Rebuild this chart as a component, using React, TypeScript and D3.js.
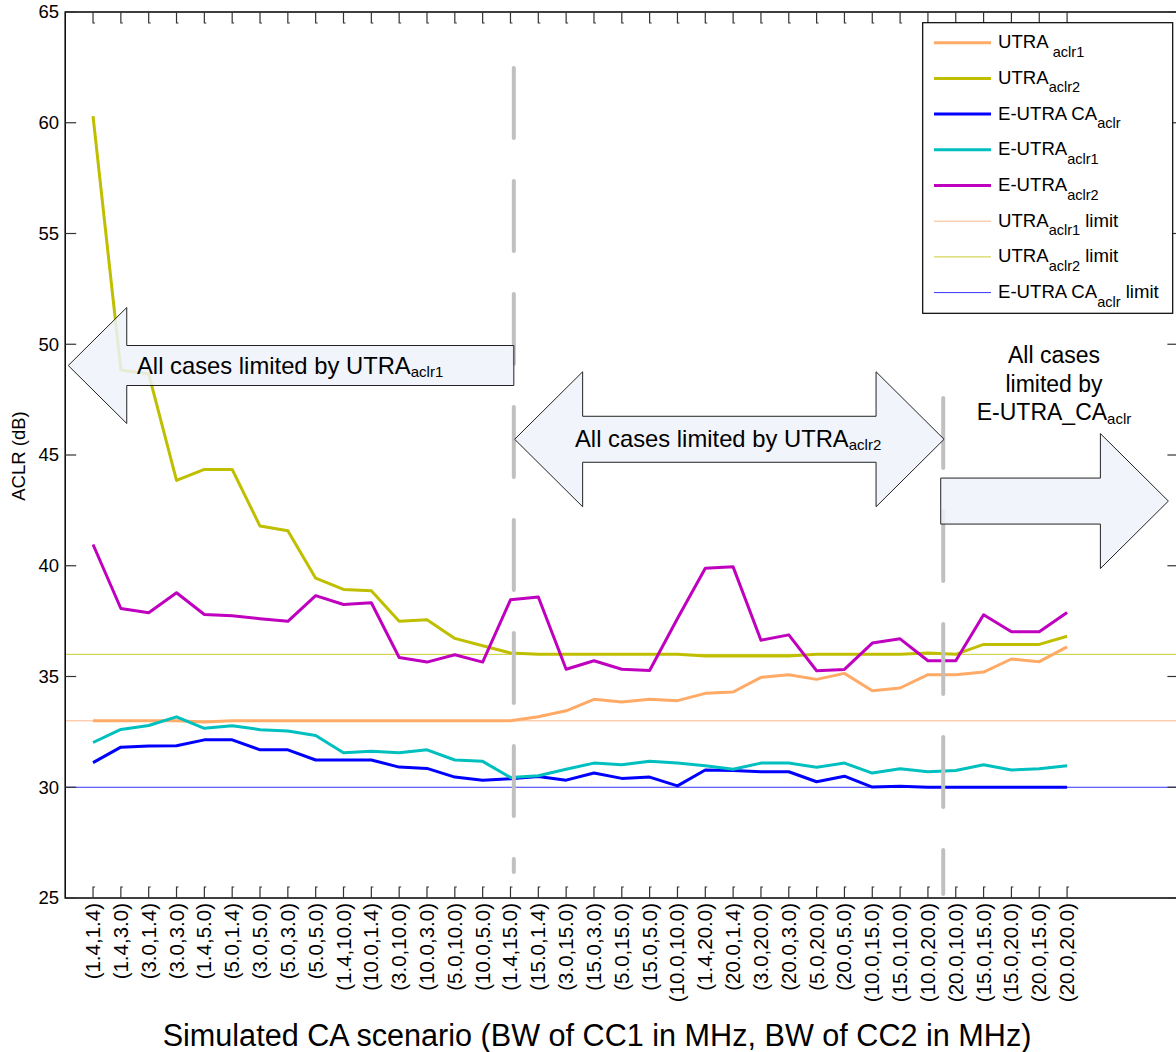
import React from "react";
import * as d3 from "d3";

// CA scenarios: (BW of CC1, BW of CC2) in MHz
const categories = [
  "(1.4,1.4)", "(1.4,3.0)", "(3.0,1.4)", "(3.0,3.0)", "(1.4,5.0)", "(5.0,1.4)",
  "(3.0,5.0)", "(5.0,3.0)", "(5.0,5.0)", "(1.4,10.0)", "(10.0,1.4)", "(3.0,10.0)",
  "(10.0,3.0)", "(5.0,10.0)", "(10.0,5.0)", "(1.4,15.0)", "(15.0,1.4)", "(3.0,15.0)",
  "(15.0,3.0)", "(5.0,15.0)", "(15.0,5.0)", "(10.0,10.0)", "(1.4,20.0)", "(20.0,1.4)",
  "(3.0,20.0)", "(20.0,3.0)", "(5.0,20.0)", "(20.0,5.0)", "(10.0,15.0)", "(15.0,10.0)",
  "(10.0,20.0)", "(20.0,10.0)", "(15.0,15.0)", "(15.0,20.0)", "(20.0,15.0)", "(20.0,20.0)",
];

// ACLR results in dB, one value per scenario
const utraAclr1 = [
  33.0, 33.0, 33.0, 33.0, 32.95, 33.0, 33.0, 33.0, 33.0, 33.0, 33.0, 33.0,
  33.0, 33.0, 33.0, 33.0, 33.18, 33.45, 33.97, 33.85, 33.97, 33.91, 34.24, 34.3,
  34.96, 35.08, 34.87, 35.14, 34.36, 34.48, 35.08, 35.08, 35.2, 35.79, 35.67, 36.34,
];
const utraAclr2 = [
  60.3, 48.84, 48.66, 43.85, 44.35, 44.35, 41.79, 41.58, 39.44, 38.93, 38.87, 37.49,
  37.56, 36.72, 36.39, 36.06, 36.0, 36.0, 36.0, 36.0, 36.0, 36.0, 35.93, 35.93,
  35.93, 35.93, 36.0, 36.0, 36.0, 36.0, 36.06, 36.0, 36.45, 36.45, 36.45, 36.82,
];
const eutraCaAclr = [
  31.11, 31.81, 31.86, 31.87, 32.14, 32.14, 31.69, 31.69, 31.23, 31.23, 31.23, 30.91,
  30.85, 30.46, 30.32, 30.38, 30.49, 30.32, 30.64, 30.4, 30.46, 30.06, 30.78, 30.76,
  30.7, 30.7, 30.25, 30.5, 30.01, 30.05, 30.0, 30.0, 30.0, 30.0, 30.0, 30.0,
];
const eutraAclr1 = [
  32.02, 32.61, 32.79, 33.18, 32.66, 32.78, 32.6, 32.54, 32.34, 31.56, 31.62, 31.56,
  31.69, 31.23, 31.17, 30.44, 30.52, 30.81, 31.09, 31.02, 31.17, 31.09, 30.97, 30.81,
  31.09, 31.09, 30.9, 31.09, 30.64, 30.84, 30.7, 30.76, 31.02, 30.78, 30.84, 30.97,
];
const eutraAclr2 = [
  40.96, 38.07, 37.88, 38.78, 37.8, 37.74, 37.61, 37.49, 38.65, 38.25, 38.33, 35.86,
  35.65, 35.98, 35.65, 38.46, 38.59, 35.33, 35.71, 35.33, 35.27, 37.62, 39.89, 39.95,
  36.64, 36.88, 35.26, 35.32, 36.51, 36.7, 35.71, 35.71, 37.79, 37.02, 37.02, 37.89,
];

// Requirement limits in dB
const utraAclr1Limit = 33;
const utraAclr2Limit = 36;
const eutraCaAclrLimit = 30;

const yTicks = [25, 30, 35, 40, 45, 50, 55, 60, 65];

// Region boundaries (in scenario-index units) and their vertical extent (dB)
const separators = [
  { at: 16.12, from: 62.47, to: 26.17 },
  { at: 31.55, from: 47.57, to: 25.18 },
];

const FONT = "'Liberation Sans', Arial, Helvetica, sans-serif";

const series = [
  { key: "u1", data: utraAclr1, color: "#ffaa66", main: "UTRA ", sub: "aclr1", tail: "" },
  { key: "u2", data: utraAclr2, color: "#bfbf00", main: "UTRA", sub: "aclr2", tail: "" },
  { key: "ca", data: eutraCaAclr, color: "#0000ff", main: "E-UTRA CA", sub: "aclr", tail: "" },
  { key: "e1", data: eutraAclr1, color: "#00bfbf", main: "E-UTRA", sub: "aclr1", tail: "" },
  { key: "e2", data: eutraAclr2, color: "#bf00bf", main: "E-UTRA", sub: "aclr2", tail: "" },
];

const limits = [
  { key: "l1", value: utraAclr1Limit, color: "#ffb888", main: "UTRA", sub: "aclr1", tail: " limit" },
  { key: "l2", value: utraAclr2Limit, color: "#cccc33", main: "UTRA", sub: "aclr2", tail: " limit" },
  { key: "l3", value: eutraCaAclrLimit, color: "#3535ff", main: "E-UTRA CA", sub: "aclr", tail: " limit" },
];

const W = 1176;
const H = 1052;

export default function App() {
  const x = d3.scaleLinear().domain([0, 40]).range([65.2, 1178.4]);
  const y = d3.scaleLinear().domain([25, 65]).range([898, 12]);

  const line = d3
    .line<number>()
    .x((_, i) => x(i + 1))
    .y((d) => y(d));

  // Block arrow outlines
  const leftArrow = (tipX: number, endX: number, cy: number, shaftH: number, headH: number, headL: number) =>
    `M${tipX},${cy} L${tipX + headL},${cy - headH} V${cy - shaftH} H${endX} V${cy + shaftH} H${tipX + headL} V${cy + headH} Z`;
  const rightArrow = (startX: number, tipX: number, cy: number, shaftH: number, headH: number, headL: number) =>
    `M${tipX},${cy} L${tipX - headL},${cy - headH} V${cy - shaftH} H${startX} V${cy + shaftH} H${tipX - headL} V${cy + headH} Z`;
  const doubleArrow = (lx: number, rx: number, cy: number, shaftH: number, headH: number, headL: number) =>
    `M${lx},${cy} L${lx + headL},${cy - headH} V${cy - shaftH} H${rx - headL} V${cy - headH} L${rx},${cy} L${rx - headL},${cy + headH} V${cy + shaftH} H${lx + headL} V${cy + headH} Z`;

  const a1y = y(49.04);
  const a2y = y(45.71);
  const a3y = y(42.92);

  const legendX = 922.7;
  const legendY = 22.7;
  const legendRows = [...series, ...limits];

  return (
    <svg
      width={W}
      height={H}
      viewBox={`0 0 ${W} ${H}`}
      style={{ position: "absolute", left: 0, top: 0, background: "#fff" }}
      fontFamily={FONT}
    >
      <rect x={0} y={0} width={W} height={H} fill="#fff" />

      {/* limit lines */}
      {limits.map((l) => (
        <line key={l.key} x1={x(0)} x2={x(40)} y1={y(l.value)} y2={y(l.value)} stroke={l.color} strokeWidth={1} />
      ))}

      {/* measured series */}
      {series.map((s) => (
        <path key={s.key} d={line(s.data) || ""} fill="none" stroke={s.color} strokeWidth={3} strokeLinejoin="round" />
      ))}

      {/* region separators */}
      {separators.map((s, i) => (
        <line
          key={i}
          x1={x(s.at)}
          x2={x(s.at)}
          y1={y(s.from)}
          y2={y(s.to)}
          stroke="#c0c0c0"
          strokeWidth={4}
          strokeLinecap="round"
          strokeDasharray="70 43"
        />
      ))}

      {/* axes frame */}
      <path d={`M${x(40)},${y(65)} H${x(0)} V${y(25)} H${x(40)}`} fill="none" stroke="#000" strokeWidth={1.5} />
      <line x1={x(40)} x2={x(40)} y1={y(65)} y2={y(25)} stroke="#000" strokeWidth={1.5} />

      {/* y ticks and labels */}
      {yTicks.map((t) => (
        <g key={t}>
          <line x1={x(0)} x2={x(0) + 11} y1={y(t)} y2={y(t)} stroke="#333" strokeWidth={1.2} />
          <line x1={x(40) - 11} x2={x(40)} y1={y(t)} y2={y(t)} stroke="#333" strokeWidth={1.2} />
          <text x={59} y={y(t)} dy="0.35em" textAnchor="end" fontSize={18.5} fill="#000">
            {t}
          </text>
        </g>
      ))}

      {/* category ticks and labels */}
      {categories.map((c, i) => {
        const cx = x(i + 1);
        return (
          <g key={c}>
            <path d={`M${cx},${y(65)} V${y(65) + 11} h2`} fill="none" stroke="#333" strokeWidth={1.2} />
            <path d={`M${cx},${y(25)} V${y(25) - 11} h2`} fill="none" stroke="#333" strokeWidth={1.2} />
            <text
              transform={`translate(${cx + 7},${y(25) + 5}) rotate(-90)`}
              textAnchor="end"
              fontSize={20.5}
              fill="#000"
            >
              {c}
            </text>
          </g>
        );
      })}

      {/* axis titles */}
      <text transform={`translate(25,456) rotate(-90)`} textAnchor="middle" fontSize={18.5} fill="#000">
        ACLR (dB)
      </text>
      <text x={597} y={1046} textAnchor="middle" fontSize={30.6} fill="#000">
        Simulated CA scenario (BW of CC1 in MHz, BW of CC2 in MHz)
      </text>

      {/* annotation arrows */}
      <g fill="#eef2f9" fillOpacity={0.85} stroke="#222" strokeWidth={1}>
        <path d={leftArrow(x(0.11), x(16.12), a1y, 20, 58, 58.5)} />
        <path d={doubleArrow(x(16.15), x(31.58), a2y, 23, 67.5, 68)} />
        <path d={rightArrow(x(31.46), x(39.64), a3y, 23, 67.5, 68)} />
      </g>

      <text x={137} y={a1y + 8} fontSize={23.8} fill="#000">
        All cases limited by UTRA
        <tspan fontSize={15} dy={3}>aclr1</tspan>
      </text>
      <text x={575} y={a2y + 8} fontSize={23.8} fill="#000">
        All cases limited by UTRA
        <tspan fontSize={15} dy={3}>aclr2</tspan>
      </text>
      <g fontSize={23} fill="#000" textAnchor="middle">
        <text x={1054} y={363}>All cases</text>
        <text x={1054} y={391.5}>limited by</text>
        <text x={1054} y={420}>
          E-UTRA_CA
          <tspan fontSize={15} dy={4}>aclr</tspan>
        </text>
      </g>

      {/* legend */}
      <rect x={legendX} y={legendY} width={250} height={290.6} fill="#fff" stroke="#000" strokeWidth={1.2} />
      {legendRows.map((r, i) => {
        const ly = 42.7 + i * 35.7;
        const isLimit = i >= series.length;
        return (
          <g key={r.key}>
            <line x1={934} x2={991} y1={ly} y2={ly} stroke={r.color} strokeWidth={isLimit ? 1 : 3} />
            <text x={998} y={ly + 5.5} fontSize={18.6} fill="#000">
              {r.main}
              <tspan fontSize={14.5} dy={8.5}>{r.sub}</tspan>
              {r.tail ? <tspan dy={-8.5}>{r.tail}</tspan> : null}
            </text>
          </g>
        );
      })}
    </svg>
  );
}
